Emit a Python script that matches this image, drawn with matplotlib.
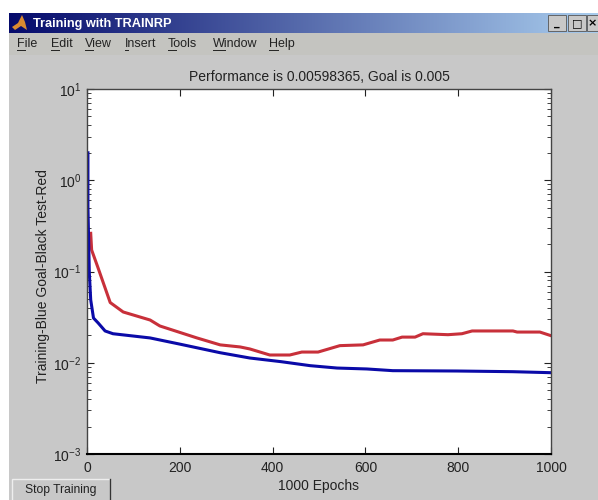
import matplotlib.pyplot as plt
import numpy as np
from matplotlib.patches import Rectangle, Polygon

plt.rcParams['font.family'] = ['Liberation Sans', 'DejaVu Sans']
plt.rcParams['mathtext.default'] = 'regular'

W, H = 598, 500

# values
train_epochs = [2, 2, 5, 8, 14, 24, 39, 56, 136, 200, 287, 351, 418, 481, 539, 603, 659, 797, 918, 1000]
train_perf = [2.0, 0.513, 0.0964, 0.0488, 0.0309, 0.0273, 0.0223, 0.0208, 0.0187, 0.0160, 0.01288,
              0.01127, 0.01028, 0.00929, 0.00875, 0.00855, 0.00819, 0.00812, 0.00798, 0.00778]
test_epochs = [8, 10, 24, 50, 78, 136, 157, 237, 287, 330, 351, 394, 437, 463, 498, 545, 595, 631,
               659, 679, 707, 724, 778, 808, 830, 918, 927, 976, 1000]
test_perf = [0.262, 0.172, 0.109, 0.0457, 0.036, 0.0294, 0.0253, 0.0187, 0.0157, 0.0149, 0.01416,
             0.01216, 0.01216, 0.0131, 0.0131, 0.0154, 0.0157, 0.01775, 0.01775, 0.0191, 0.0191,
             0.0208, 0.0203, 0.0208, 0.0223, 0.0223, 0.0217, 0.0217, 0.0198]
x_ticks = [0, 200, 400, 600, 800, 1000]
menu_items = ['File', 'Edit', 'View', 'Insert', 'Tools', 'Window', 'Help']
menu_x = [17, 51, 85, 125, 168, 213, 269]

fig = plt.figure(figsize=(W / 100, H / 100), dpi=100, facecolor='white')


def px_axes(x0, y0, x1, y1, **kw):
    # axes placed in picture pixels, y counted from the top
    return fig.add_axes([x0 / W, 1 - y1 / H, (x1 - x0) / W, (y1 - y0) / H], **kw)


# window background in pixel coordinates
bg = px_axes(0, 0, W, H)
bg.set_xlim(0, W)
bg.set_ylim(H, 0)
bg.axis('off')
bg.add_patch(Rectangle((9, 13), W - 9, H - 13, color='#c8c8c8', lw=0))
bg.add_patch(Rectangle((9, 33), W - 9, 22, color='#c4c4c0', lw=0))

# title bar gradient
bar = px_axes(9, 13, W, 33)
grad = np.linspace(0, 1, 256).reshape(1, -1, 1)
dark = np.array([0.02, 0.04, 0.42])
light = np.array([0.66, 0.80, 0.93])
bar.imshow(dark + (light - dark) * grad, aspect='auto', extent=(0, 1, 0, 1))
bar.axis('off')

bg2 = px_axes(0, 0, W, H)
bg2.set_xlim(0, W)
bg2.set_ylim(H, 0)
bg2.axis('off')
bg2.add_patch(Polygon([[12, 27], [18, 23], [22, 15], [25, 22], [27, 30], [21, 26], [15, 30]],
                      closed=True, color='#d98a30', lw=0))
bg2.text(33, 23.5, 'Training with TRAINRP', color='white', fontsize=9.2, fontweight='bold',
         va='center', ha='left')

# window buttons
for bx, label, cx in zip([548, 568, 587], ['_', '□', '×'], [557, 577, 592]):
    bg2.add_patch(Rectangle((bx, 15), 18, 16, facecolor='#c8c8c8', edgecolor='#555555', lw=0.6))
    bg2.text(cx, 23, label, color='black', fontsize=8, fontweight='bold', ha='center', va='center',
             family=['DejaVu Sans'])

# menu, first letter underlined
renderer = fig.canvas.get_renderer()
for name, mx in zip(menu_items, menu_x):
    bg2.text(mx, 44, name, color='#222222', fontsize=9, va='center', ha='left')
    first = bg2.text(mx, 44, name[0], fontsize=9, va='center', ha='left')
    w = first.get_window_extent(renderer).width
    first.remove()
    bg2.plot([mx, mx + w], [50, 50], color='#222222', lw=0.7)

# stop button
bg2.add_patch(Rectangle((12, 479), 98, 30, facecolor='#c8c8c8', edgecolor='#eeeeee', lw=1))
bg2.plot([110, 110], [479, 500], color='#333333', lw=1)
bg2.text(61, 489.5, 'Stop Training', color='#222222', fontsize=8.7, ha='center', va='center')
bg2.set_xlim(0, W)
bg2.set_ylim(H, 0)

# the plot itself
ax = px_axes(87, 89, 551, 454)
ax.set_yscale('log')
ax.plot(test_epochs, test_perf, color='#c8303a', lw=2.2, solid_joinstyle='round')
ax.plot(train_epochs, train_perf, color='#0a0aa8', lw=2.2, solid_joinstyle='round')
ax.set_xlim(0, 1000)
ax.set_ylim(1e-3, 1e1)
ax.set_xticks(x_ticks)
ax.tick_params(which='both', direction='in', top=True, right=True, colors='#222222',
               labelsize=10, length=5, width=0.8)
ax.tick_params(which='minor', length=3, width=0.6)
ax.tick_params(axis='y', pad=4)
ax.tick_params(axis='x', pad=5)
for s in ax.spines.values():
    s.set_color('#444444')
    s.set_linewidth(1.0)
ax.spines['bottom'].set_color('black')
ax.spines['bottom'].set_linewidth(1.5)

ax.set_title('Performance is 0.00598365, Goal is 0.005', fontsize=10, color='#222222', pad=6)
ax.set_xlabel('1000 Epochs', fontsize=10, color='#222222', labelpad=3)
ax.set_ylabel('Training-Blue Goal-Black Test-Red', fontsize=10, color='#222222')
ax.yaxis.set_label_coords(-0.08, 0.488)

plt.savefig('out.png', dpi=100)
